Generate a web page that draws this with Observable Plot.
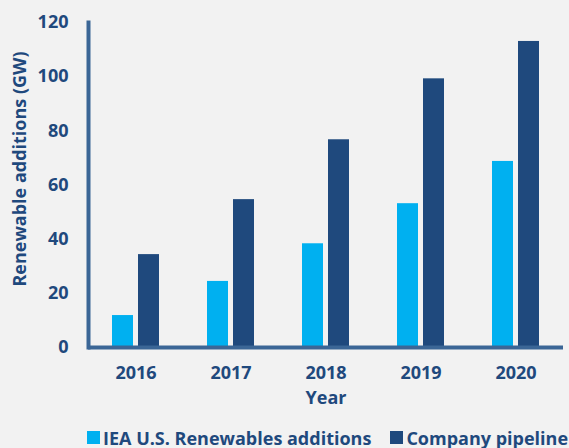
<!DOCTYPE html>
<html>
<head>
<meta charset="utf-8">
<script src="https://cdn.jsdelivr.net/npm/d3@7"></script>
<script src="https://cdn.jsdelivr.net/npm/@observablehq/plot@0.6"></script>
<style>
  html, body { margin: 0; padding: 0; background: #f2f2f2; }
  #chart { width: 569px; height: 448px; overflow: hidden; background: #f2f2f2; }
  .legend { display: flex; align-items: center; padding-left: 87px; margin-top: 6px; height: 33px; white-space: nowrap;
    font-family: "Open Sans", sans-serif; font-weight: 700; font-size: 18px; color: #1f497d; }
  .legend .item { display: flex; align-items: center; margin-right: 19px; }
  .legend .sw { width: 13px; height: 13px; margin-right: 3px; display: inline-block; }
  svg text { font-weight: 700; }
</style>
</head>
<body>
<div id="chart"></div>
<script>
const years = ["2016", "2017", "2018", "2019", "2020"];
const seriesNames = ["IEA U.S. Renewables additions", "Company pipeline"];
const ieaValues = [11.8, 24.4, 38.3, 53.1, 68.7];
const pipelineValues = [34.3, 54.6, 76.7, 99.2, 113.0];
const yTicks = [0, 20, 40, 60, 80, 100, 120];
const seriesColors = ["#00b0f0", "#1f497d"];
const yTitle = "Renewable additions (GW)";
const xTitle = "Year";

const data = [];
years.forEach((yr, i) => {
  data.push({year: yr, series: seriesNames[0], value: ieaValues[i]});
  data.push({year: yr, series: seriesNames[1], value: pipelineValues[i]});
});

const axisColor = "#3b6696";
const textColor = "#1f497d";

const plot = Plot.plot({
  width: 569,
  height: 415,
  marginLeft: 88,
  marginRight: 6,
  marginTop: 22,
  marginBottom: 68,
  style: {background: "#f2f2f2", fontFamily: "'Open Sans', sans-serif", fontWeight: "700", fontSize: "18px", color: textColor, overflow: "visible"},
  fx: {domain: years, padding: 0, label: xTitle},
  x: {domain: seriesNames, paddingInner: 0.189, paddingOuter: 0.887, axis: null},
  y: {domain: [0, 120], label: null},
  color: {domain: seriesNames, range: seriesColors},
  marks: [
    Plot.barY(data, {fx: "year", x: "series", y: "value", fill: "series"}),
    Plot.ruleY([0], {stroke: axisColor, strokeWidth: 4}),
    Plot.frame({anchor: "left", stroke: axisColor, strokeWidth: 4, facetAnchor: "left"}),
    Plot.axisY({ticks: yTicks, tickSize: 0, tickPadding: 20, label: null, fill: textColor, fontSize: 18}),
    Plot.text([yTitle], {text: d => d, frameAnchor: "left", textAnchor: "middle", lineAnchor: "middle",
      rotate: -90, dx: -68, dy: -16, facetAnchor: "left", fill: textColor, fontSize: 18, fontWeight: 700}),
    Plot.axisFx({anchor: "bottom", tickSize: 0, tickPadding: 19, label: xTitle, labelAnchor: "center", labelArrow: "none",
      labelOffset: 56, fill: textColor, fontSize: 18})
  ]
});

const chart = document.getElementById("chart");
chart.appendChild(plot);

const legend = document.createElement("div");
legend.className = "legend";
seriesNames.forEach((name, i) => {
  const item = document.createElement("span");
  item.className = "item";
  const sw = document.createElement("span");
  sw.className = "sw";
  sw.style.background = seriesColors[i];
  const label = document.createElement("span");
  label.textContent = name;
  item.appendChild(sw);
  item.appendChild(label);
  legend.appendChild(item);
});
chart.appendChild(legend);
</script>
</body>
</html>
